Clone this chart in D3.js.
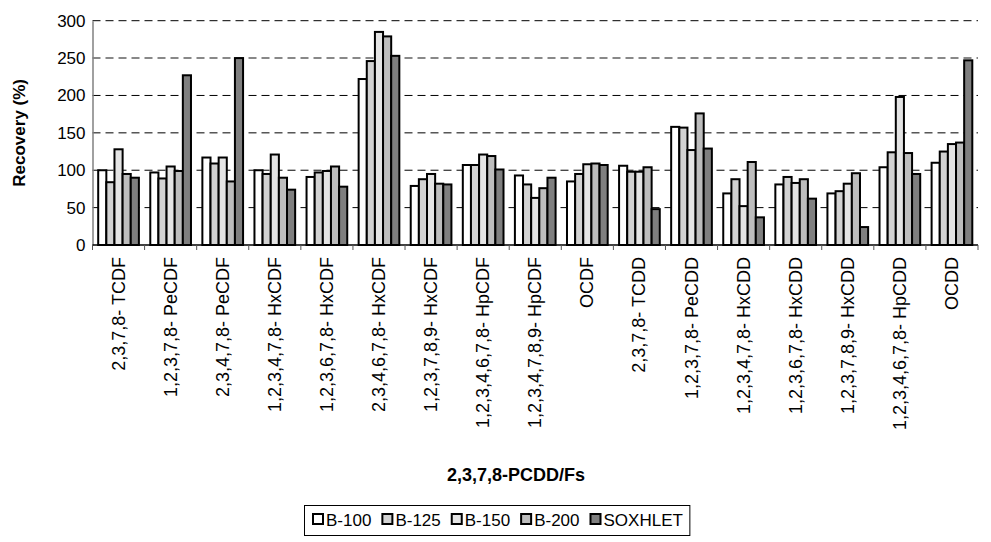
<!DOCTYPE html>
<html>
<head>
<meta charset="utf-8">
<script src="https://cdn.jsdelivr.net/npm/d3@7/dist/d3.min.js"></script>
<style>
  html, body { margin: 0; padding: 0; background: #fff; overflow: hidden; }
  svg { display: block; }
  text { font-family: Arial, "Liberation Sans", sans-serif; fill: #000; }
</style>
</head>
<body>
<svg id="chart" width="991" height="542"></svg>
<script>
const categories = [
  "2,3,7,8- TCDF", "1,2,3,7,8- PeCDF", "2,3,4,7,8- PeCDF", "1,2,3,4,7,8- HxCDF",
  "1,2,3,6,7,8- HxCDF", "2,3,4,6,7,8- HxCDF", "1,2,3,7,8,9- HxCDF", "1,2,3,4,6,7,8- HpCDF",
  "1,2,3,4,7,8,9- HpCDF", "OCDF", "2,3,7,8- TCDD", "1,2,3,7,8- PeCDD",
  "1,2,3,4,7,8- HxCDD", "1,2,3,6,7,8- HxCDD", "1,2,3,7,8,9- HxCDD", "1,2,3,4,6,7,8- HpCDD", "OCDD"
];
const seriesNames = ["B-100", "B-125", "B-150", "B-200", "SOXHLET"];
const b100    = [100, 97, 117, 100, 91, 222, 79, 107, 93, 85, 106, 158, 69, 81, 69, 104, 110];
const b125    = [84, 89, 109, 95, 97, 246, 88, 107, 81, 95, 98, 157, 88, 91, 72, 124, 125];
const b150    = [128, 105, 117, 121, 99, 285, 95, 121, 63, 108, 98, 127, 52, 83, 82, 198, 135];
const b200    = [95, 99, 85, 90, 105, 279, 82, 119, 76, 109, 104, 176, 111, 88, 96, 123, 137];
const soxhlet = [90, 227, 250, 74, 78, 253, 81, 101, 90, 107, 48, 129, 37, 62, 24, 95, 247];
const yTicks  = [0, 50, 100, 150, 200, 250, 300];
const colors  = ["#ffffff", "#d2d2d2", "#e4e4e4", "#bdbdbd", "#7f7f7f"];

const values = [b100, b125, b150, b200, soxhlet];
const svg = d3.select("#chart");

const plotLeft = 92.5, plotRight = 978, plotTop = 20.7, plotBottom = 245;

const x0 = d3.scaleBand().domain(categories).range([plotLeft, plotRight]).padding(0);
const x1 = d3.scaleBand().domain(seriesNames).range([0, x0.bandwidth()]).paddingInner(0).paddingOuter(0.7);
const y = d3.scaleLinear().domain([0, 300]).range([plotBottom, plotTop]);

// gridlines
svg.append("g").selectAll("line").data(yTicks.filter(t => t > 0)).join("line")
  .attr("x1", plotLeft).attr("x2", plotRight)
  .attr("y1", d => y(d)).attr("y2", d => y(d))
  .attr("stroke", d => d === 250 ? "#888" : "#000")
  .attr("stroke-width", d => d === 250 ? 2 : 1)
  .attr("stroke-dasharray", "8,5");

// bars
const groups = svg.append("g").selectAll("g").data(categories).join("g")
  .attr("transform", d => `translate(${x0(d)},0)`);
groups.selectAll("rect").data((d, i) => seriesNames.map((s, j) => ({ s, j, v: values[j][i] })))
  .join("rect")
  .attr("x", d => x1(d.s))
  .attr("width", x1.bandwidth())
  .attr("y", d => y(d.v))
  .attr("height", d => y(0) - y(d.v))
  .attr("fill", d => colors[d.j])
  .attr("stroke", "#000")
  .attr("stroke-width", 2);

// y axis
const yAxis = svg.append("g").attr("transform", `translate(${plotLeft},0)`)
  .call(d3.axisLeft(y).tickValues(yTicks).tickSize(0).tickPadding(7));
yAxis.select(".domain").attr("stroke", "#808080").attr("stroke-width", 1.5);
yAxis.selectAll("text").style("font-size", "17px").attr("fill", "#000");

// x axis
const xAxisG = svg.append("g").attr("transform", `translate(0,${plotBottom})`);
xAxisG.append("line").attr("x1", plotLeft).attr("x2", plotRight).attr("y1", 0).attr("y2", 0)
  .attr("stroke", "#000").attr("stroke-width", 1.5);
xAxisG.selectAll("line.tick").data(categories.concat(["end"])).join("line").attr("class", "tick")
  .attr("x1", d => d === "end" ? plotRight : x0(d)).attr("x2", d => d === "end" ? plotRight : x0(d))
  .attr("y1", 0).attr("y2", 5)
  .attr("stroke", "#555").attr("stroke-width", 1);
xAxisG.selectAll("text").data(categories).join("text")
  .attr("transform", d => `translate(${x0(d) + x0.bandwidth() / 2 + 6},12) rotate(-90)`)
  .attr("text-anchor", "end")
  .style("font-size", "18px")
  .text(d => d);

// axis titles
svg.append("text").attr("x", 516).attr("y", 481)
  .attr("text-anchor", "middle").style("font-size", "18px").style("font-weight", "bold")
  .text("2,3,7,8-PCDD/Fs");
svg.append("text").attr("transform", `translate(25,${(plotTop + plotBottom) / 2}) rotate(-90)`)
  .attr("text-anchor", "middle").style("font-size", "17px").style("font-weight", "bold")
  .text("Recovery (%)");

// legend
const legend = svg.append("g");
const lgItems = legend.selectAll("g").data(seriesNames).join("g");
let lx = 313;
lgItems.each(function (d, i) {
  const g = d3.select(this);
  g.append("rect").attr("x", lx).attr("y", 514).attr("width", 10).attr("height", 10)
    .attr("fill", colors[i]).attr("stroke", "#000").attr("stroke-width", 2);
  const t = g.append("text").attr("x", lx + 13).attr("y", 526)
    .style("font-size", "17px").text(d);
  lx += 13 + t.node().getComputedTextLength() + 11;
});
legend.insert("rect", ":first-child").attr("x", 304.5).attr("y", 505.5)
  .attr("width", lx - 11 + 7 - 304.5).attr("height", 30)
  .attr("fill", "#fff").attr("stroke", "#000").attr("stroke-width", 1);
</script>
</body>
</html>
